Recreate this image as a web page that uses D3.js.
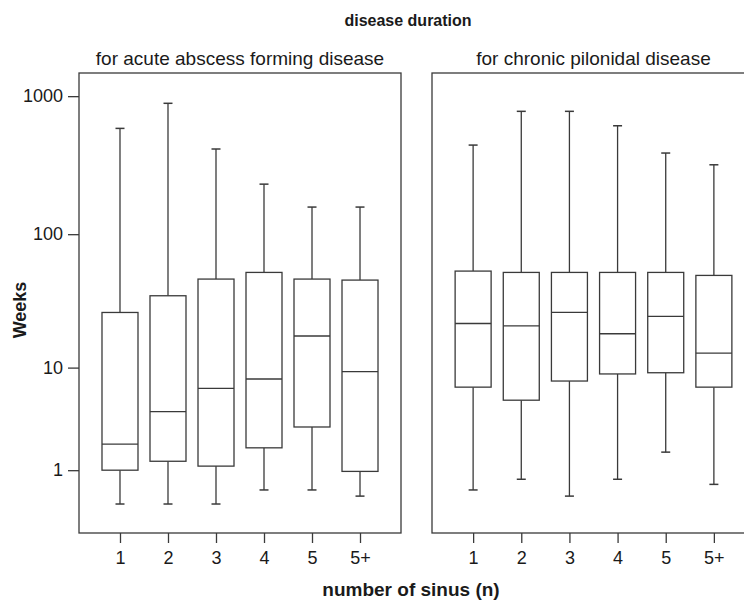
<!DOCTYPE html>
<html>
<head>
<meta charset="utf-8">
<script src="https://cdn.jsdelivr.net/npm/d3@7"></script>
<style>
  html, body { margin: 0; padding: 0; background: #fff; }
  svg { display: block; font-family: "Liberation Sans", Arial, Helvetica, sans-serif; }
</style>
</head>
<body>
<svg id="chart" width="744" height="604"></svg>
<script>
// Number of sinuses
const categories = ["1", "2", "3", "4", "5", "5+"];

// Disease duration in weeks: whisker low, lower quartile, median, upper quartile, whisker high
const acuteMin    = [0.14, 0.14, 0.14, 0.44, 0.44, 0.30];
const acuteQ1     = [1.0,  1.32, 1.14, 1.9,  3.1,  0.96];
const acuteMedian = [2.08, 4.3,  6.8,  8.1,  17.6, 9.3];
const acuteQ3     = [26.5, 35.3, 46.9, 52.5, 46.9, 46.1];
const acuteMax    = [585,  888,  415,  231,  157.5, 157.5];

const chronicMin    = [0.44, 0.72, 0.30, 0.72, 1.70, 0.58];
const chronicQ1     = [6.95, 5.4,  7.8,  8.9,  9.1,  6.95];
const chronicMedian = [21.9, 21.0, 26.5, 18.3, 24.8, 13.0];
const chronicQ3     = [53.7, 52.5, 52.5, 52.5, 52.5, 49.9];
const chronicMax    = [443,  777,  777,  611,  388,  319];

const yTickValues = [1, 10, 100, 1000];

const panelTitles = ["for acute abscess forming disease", "for chronic pilonidal disease"];

const svg = d3.select("#chart");
const ink = "#3a3a3a";
const textInk = "#1a1a1a";

const plotTop = 73, plotBottom = 533;
// log(1 + weeks) axis
const y = d3.scaleSymlog().constant(1).domain([-0.42, 1470]).range([plotBottom, plotTop]);

const panels = [
  { x0: 79, x1: 401, title: panelTitles[0],
    stats: categories.map((c, i) => ({ c, lo: acuteMin[i], q1: acuteQ1[i], med: acuteMedian[i], q3: acuteQ3[i], hi: acuteMax[i] })) },
  { x0: 432, x1: 755, title: panelTitles[1],
    stats: categories.map((c, i) => ({ c, lo: chronicMin[i], q1: chronicQ1[i], med: chronicMedian[i], q3: chronicQ3[i], hi: chronicMax[i] })) }
];

const boxW = 36, capW = 9;

panels.forEach((p, pi) => {
  const x = d3.scalePoint().domain(categories).range([p.x0, p.x1]).padding(0.854);
  const g = svg.append("g");

  // panel frame
  g.append("rect")
    .attr("x", p.x0).attr("y", plotTop)
    .attr("width", p.x1 - p.x0).attr("height", plotBottom - plotTop)
    .attr("fill", "none").attr("stroke", ink).attr("stroke-width", 1.3);

  // panel heading
  svg.append("text")
    .attr("x", (p.x0 + p.x1) / 2).attr("y", 65)
    .attr("text-anchor", "middle")
    .attr("font-size", 19).attr("fill", textInk)
    .text(p.title);

  const boxes = g.selectAll("g.box").data(p.stats).join("g").attr("class", "box");

  // whiskers
  boxes.append("line")
    .attr("x1", d => x(d.c)).attr("x2", d => x(d.c))
    .attr("y1", d => y(d.q3)).attr("y2", d => y(d.hi))
    .attr("stroke", ink).attr("stroke-width", 1.3);
  boxes.append("line")
    .attr("x1", d => x(d.c)).attr("x2", d => x(d.c))
    .attr("y1", d => y(d.q1)).attr("y2", d => y(d.lo))
    .attr("stroke", ink).attr("stroke-width", 1.3);
  // whisker caps
  boxes.append("line")
    .attr("x1", d => x(d.c) - capW / 2).attr("x2", d => x(d.c) + capW / 2)
    .attr("y1", d => y(d.hi)).attr("y2", d => y(d.hi))
    .attr("stroke", ink).attr("stroke-width", 1.5);
  boxes.append("line")
    .attr("x1", d => x(d.c) - capW / 2).attr("x2", d => x(d.c) + capW / 2)
    .attr("y1", d => y(d.lo)).attr("y2", d => y(d.lo))
    .attr("stroke", ink).attr("stroke-width", 1.5);
  // interquartile box
  boxes.append("rect")
    .attr("x", d => x(d.c) - boxW / 2).attr("width", boxW)
    .attr("y", d => y(d.q3)).attr("height", d => y(d.q1) - y(d.q3))
    .attr("fill", "#fff").attr("stroke", ink).attr("stroke-width", 1.3);
  // median
  boxes.append("line")
    .attr("x1", d => x(d.c) - boxW / 2).attr("x2", d => x(d.c) + boxW / 2)
    .attr("y1", d => y(d.med)).attr("y2", d => y(d.med))
    .attr("stroke", ink).attr("stroke-width", 1.3);

  // category axis
  const xAxis = svg.append("g")
    .attr("transform", `translate(0,${plotBottom})`)
    .call(d3.axisBottom(x).tickSize(10).tickPadding(8));
  xAxis.select(".domain").remove();
  xAxis.selectAll(".tick line").attr("stroke", ink).attr("stroke-width", 1.3);
  xAxis.selectAll(".tick text").attr("font-size", 18).attr("fill", textInk)
    .attr("font-family", "Liberation Sans, Arial, sans-serif");

  if (pi === 0) {
    const yAxis = svg.append("g")
      .attr("transform", `translate(${p.x0},0)`)
      .call(d3.axisLeft(y).tickValues(yTickValues).tickFormat(d3.format("d")).tickSize(11).tickPadding(5));
    yAxis.select(".domain").remove();
    yAxis.selectAll(".tick line").attr("stroke", ink).attr("stroke-width", 1.3);
    yAxis.selectAll(".tick text").attr("font-size", 18).attr("fill", textInk)
      .attr("font-family", "Liberation Sans, Arial, sans-serif");
  }
});

// titles
svg.append("text")
  .attr("x", 408).attr("y", 26)
  .attr("text-anchor", "middle")
  .attr("font-size", 16).attr("font-weight", "bold").attr("fill", textInk)
  .text("disease duration");

svg.append("text")
  .attr("x", 411).attr("y", 596)
  .attr("text-anchor", "middle")
  .attr("font-size", 19).attr("font-weight", "bold").attr("fill", textInk)
  .text("number of sinus (n)");

svg.append("text")
  .attr("transform", "translate(26,310) rotate(-90)")
  .attr("text-anchor", "middle")
  .attr("font-size", 18).attr("font-weight", "bold").attr("fill", textInk)
  .text("Weeks");
</script>
</body>
</html>
